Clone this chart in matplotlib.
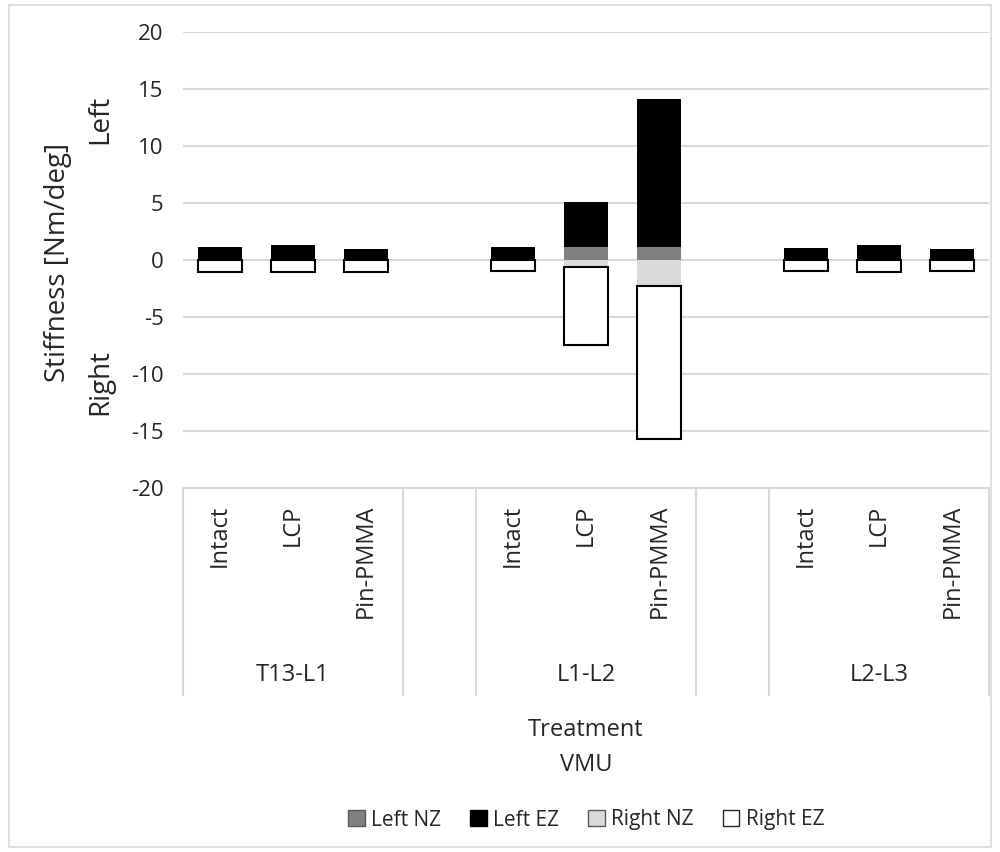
import numpy as np
import matplotlib.pyplot as plt
from matplotlib.patches import Patch, Rectangle
from matplotlib.transforms import blended_transform_factory

plt.rcParams['font.family'] = ['Open Sans', 'DejaVu Sans']
plt.rcParams['axes.unicode_minus'] = False

groups = ['T13-L1', 'L1-L2', 'L2-L3']
treatments = ['Intact', 'LCP', 'Pin-PMMA']

# values per bar, in order T13-L1 (Intact, LCP, Pin), L1-L2 (...), L2-L3 (...)
left_nz = [0.05, 0.05, 0.05, 0.05, 1.15, 1.1, 0.05, 0.05, 0.05]
left_ez = [1.05, 1.22, 0.9, 1.1, 3.95, 13.0, 1.0, 1.22, 0.92]
right_nz = [-0.05, -0.05, -0.05, -0.05, -0.65, -2.25, -0.05, -0.05, -0.05]
right_ez = [-0.99, -0.99, -0.99, -0.89, -6.8, -13.45, -0.93, -1.02, -0.93]

txt = '#262626'
grid = '#d9d9d9'

fig = plt.figure(figsize=(10, 8.52), dpi=100)
ax = fig.add_axes([0.183, 1 - 488 / 852, 0.806, (488 - 31.7) / 852])

# 11 slots: 3 bars, gap, 3 bars, gap, 3 bars
pos = np.array([0, 1, 2, 4, 5, 6, 8, 9, 10])
w = 0.6
ax.bar(pos, left_nz, w, color='#808080', zorder=3)
ax.bar(pos, left_ez, w, bottom=left_nz, color='black', zorder=3)
ax.bar(pos, right_nz, w, color='#d9d9d9', zorder=3)
ax.bar(pos, right_ez, w, bottom=right_nz, color='white', edgecolor='black',
       linewidth=1.5, zorder=3)

ax.set_xlim(-0.5, 10.5)
ax.set_ylim(-20, 20)
ax.set_yticks(np.arange(-20, 21, 5))
ax.tick_params(axis='y', length=0, labelsize=16, labelcolor=txt, pad=14)
ax.set_xticks([])
ax.yaxis.grid(True, color=grid, linewidth=1.5)
ax.set_axisbelow(True)
for s in ['left', 'right', 'top']:
    ax.spines[s].set_visible(False)
ax.spines['bottom'].set_color(grid)
ax.spines['bottom'].set_linewidth(1.5)

# multi-level category axis
tr = blended_transform_factory(ax.transData, fig.transFigure)
for i, p in enumerate(pos):
    fig.text(p, 1 - 505 / 852, treatments[i % 3], rotation=90, ha='center',
             va='top', fontsize=17, color=txt, transform=tr)
for g, name in enumerate(groups):
    fig.text(4 * g + 1, 1 - 675 / 852, name, ha='center', va='center',
             fontsize=17, color=txt, transform=tr)
for x in [-0.5, 2.5, 3.5, 6.5, 7.5, 10.5]:
    ax.plot([x, x], [1 - 488 / 852, 1 - 695 / 852], color=grid, lw=1.5,
            transform=tr, clip_on=False)

fig.text(0.058, 1 - 262 / 852, 'Stiffness [Nm/deg]', rotation=90,
         ha='center', va='center', fontsize=20, color=txt)
fig.text(0.100, 1 - 119 / 852, 'Left', rotation=90, ha='center',
         va='center', fontsize=20, color=txt)
fig.text(0.100, 1 - 382 / 852, 'Right', rotation=90, ha='center',
         va='center', fontsize=20, color=txt)
fig.text(0.586, 1 - 730 / 852, 'Treatment', ha='center', va='center',
         fontsize=17, color=txt)
fig.text(0.586, 1 - 765 / 852, 'VMU', ha='center', va='center',
         fontsize=17, color=txt)

handles = [Patch(facecolor='#808080', edgecolor='#595959', label='Left NZ'),
           Patch(facecolor='black', edgecolor='black', label='Left EZ'),
           Patch(facecolor='#d9d9d9', edgecolor='#595959', label='Right NZ'),
           Patch(facecolor='white', edgecolor='#262626', label='Right EZ')]
fig.legend(handles=handles, loc='center', bbox_to_anchor=(0.586, 1 - 820 / 852),
           ncol=4, frameon=False, fontsize=15, handlelength=0.8,
           handleheight=0.8, handletextpad=0.3, columnspacing=1.4,
           labelcolor=txt)

fig.patches.append(Rectangle((0.009, 0.006), 0.982, 0.988,
                             transform=fig.transFigure, fill=False,
                             edgecolor=grid, lw=1.2))

fig.savefig('out.png', dpi=100)
